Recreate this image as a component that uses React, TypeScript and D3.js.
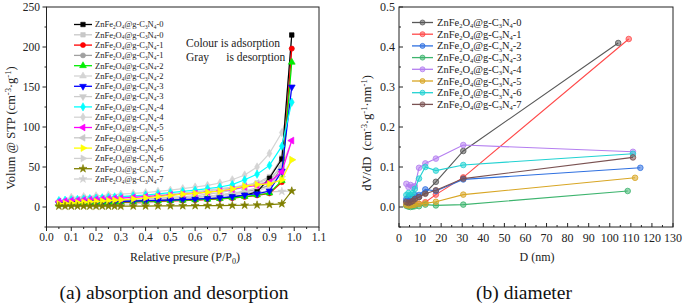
import React from "react";
import * as d3 from "d3";

// ---------- Panel (a): adsorption / desorption ----------
const X_ADS = [0.05,0.075,0.1,0.125,0.15,0.175,0.2,0.225,0.25,0.275,0.3,0.35,0.4,0.45,0.5,0.55,0.6,0.65,0.7,0.75,0.8,0.85,0.9,0.95,0.99];
const X_DES = [0.99,0.95,0.9,0.85,0.8,0.75,0.7,0.65,0.6,0.55,0.5,0.45,0.4,0.35,0.3,0.25,0.2,0.15,0.1];

const ADS_0 = [4,4.5,5,5.2,5.5,5.7,6,6.2,6.4,6.6,6.8,7.2,7.6,8,8.5,9,9.6,10.3,11.2,12.5,14.5,19,36,60,215];
const ADS_1 = [3,3.5,4,4.2,4.5,4.7,5,5.2,5.4,5.6,5.8,6.2,6.6,7,7.5,8,8.5,9.2,10,11,12.5,14.5,17,31,198];
const ADS_2 = [3.5,4,4.5,4.7,5,5.2,5.5,5.7,5.9,6.1,6.3,6.7,7.1,7.5,8,8.5,9,9.7,10.5,11.5,13,15,17.5,33,181];
const ADS_3 = [4,4.5,5,5.3,5.6,5.9,6.2,6.4,6.6,6.8,7,7.4,7.8,8.2,8.7,9.2,9.8,10.5,11.5,13,15,16.5,20,45,150];
const ADS_4 = [8,8.5,9,9.5,10,10.5,11,11.5,12,12.5,13,14,15,16.5,18,19.5,21,23,25,28,34,41,52,76,131];
const ADS_5 = [7,7.5,8,8.4,8.8,9.2,9.6,10,10.4,10.8,11.2,12,13,14,15,16,17,18.5,20,22,25,27,31,44,83];
const ADS_6 = [4,4.5,5,5.5,6,6.5,7,7.5,8,8.5,9,10,11.5,13,14.5,16,17,18.5,20,22.5,26,28,29,34,59];
const ADS_7 = [1,1,1,1,1,1,1,1,1,1,1,1.1,1.2,1.3,1.4,1.5,1.6,1.7,1.8,2,2.2,2.5,3,4,20];

const DES_0 = [215,62,38,30,25,21,18,16,14,13,12,11,10,9,8.5,8,7,6.5,6];
const DES_1 = [198,50,27,22,19,17,15,13.5,12,11,10,9.5,9,8.5,8,7.5,7,6,5.5];
const DES_2 = [181,45,25,20,17,15,13.5,12,11,10,9.5,9,8.5,8,7.5,7,6.5,6,5.5];
const DES_3 = [150,55,30,24,20,17,15,13.5,12,11,10.5,10,9.5,9,8.5,8,7.5,7,6.5];
const DES_4 = [131,93,67,50,40,34,30,27,25,23,21,19.5,18,17,16,15,14,13,12];
const DES_5 = [83,50,35,30,27,24,22,20,18.5,17,16,15,14,13.5,13,12.5,12,11,10];
const DES_6 = [59,38,32,29,27,25,23,21,19,17.5,16,15,14,13,12,11,10,9,8];
const DES_7 = [20,19.5,19,18.5,18,17,15,13,11,9,7.5,6,5,4,3.5,3,2.5,2,1.5];

const SAMPLES = ["0","1","2","3","4","5","6","7"];
const ADS = [ADS_0, ADS_1, ADS_2, ADS_3, ADS_4, ADS_5, ADS_6, ADS_7];
const DES = [DES_0, DES_1, DES_2, DES_3, DES_4, DES_5, DES_6, DES_7];
const ADS_COLORS = ["#000000","#ff0000","#00ee00","#0000ff","#00ffff","#ff00ff","#ffff00","#808000"];
const DES_COLORS = ["#c8c8c8","#a0a0a0","#d4d4d4","#cccccc","#d4d4d4","#c8c8c8","#d0d0d0","#d0d0d0"];
const MARKERS = ["square","circle","up","down","diamond","left","right","star"];

const XA_TICKS = [0,0.1,0.2,0.3,0.4,0.5,0.6,0.7,0.8,0.9,1.0,1.1];
const YA_TICKS = [0,50,100,150,200,250];

// ---------- Panel (b): pore diameter ----------
const D_0 = [3.5,4.5,5.5,6.5,7.5,9.5,12.5,17.5,30.5,104];
const D_1 = [3.5,4.5,5.5,6.5,7.5,9.5,12.5,17.5,30.5,109];
const D_2 = [3.5,4.5,5.5,6.5,7.5,9.5,12.5,17.5,30.5,114.5];
const D_3 = [3.5,4.5,5.5,6.5,7.5,9.5,12.5,17.5,30.5,108.5];
const D_4 = [3.5,4.5,5.5,6.5,7.5,9.5,12.5,17.5,30.5,111];
const D_5 = [3.5,4.5,5.5,6.5,7.5,9.5,12.5,17.5,30.5,112];
const D_6 = [3.5,4.5,5.5,6.5,7.5,9.5,12.5,17.5,30.5,111];
const D_7 = [3.5,4.5,5.5,6.5,7.5,9.5,12.5,17.5,30.5,111];

const DV_0 = [0.015,0.012,0.015,0.018,0.02,0.025,0.035,0.063,0.14,0.41];
const DV_1 = [0.005,0.003,0.004,0.005,0.006,0.008,0.012,0.031,0.074,0.42];
const DV_2 = [0.02,0.025,0.022,0.025,0.03,0.03,0.044,0.04,0.069,0.098];
const DV_3 = [0.003,0.001,0.0,0.001,0.002,0.002,0.006,0.004,0.006,0.04];
const DV_4 = [0.058,0.05,0.055,0.05,0.052,0.098,0.109,0.121,0.155,0.138];
const DV_5 = [0.005,0.004,0.004,0.005,0.006,0.008,0.009,0.013,0.031,0.073];
const DV_6 = [0.03,0.035,0.03,0.035,0.045,0.071,0.1,0.091,0.105,0.133];
const DV_7 = [0.012,0.01,0.012,0.015,0.02,0.025,0.033,0.042,0.071,0.124];

const D_SERIES = [D_0, D_1, D_2, D_3, D_4, D_5, D_6, D_7];
const DV_SERIES = [DV_0, DV_1, DV_2, DV_3, DV_4, DV_5, DV_6, DV_7];
const PORE_COLORS = ["#585858","#ff4a4a","#2f70e0","#3db46e","#b47ef0","#d8a624","#22d2d2","#7a5252"];

const XB_TICKS = [0,10,20,30,40,50,60,70,80,90,100,110,120,130];
const YB_TICKS = [0,0.1,0.2,0.3,0.4,0.5];

const FONT = "Liberation Serif";
const TXT = { fontFamily: FONT } as React.CSSProperties;

function symbolPath(kind: string, size: number) {
  const map: Record<string, any> = {
    square: d3.symbolSquare, circle: d3.symbolCircle, up: d3.symbolTriangle,
    down: d3.symbolTriangle, left: d3.symbolTriangle, right: d3.symbolTriangle,
    diamond: d3.symbolDiamond, star: d3.symbolStar,
  };
  return d3.symbol().type(map[kind]).size(size)() as string;
}
const ROT: Record<string, number> = { down: 180, left: -90, right: 90 };

function Marker({ kind, x, y, color, size }: any) {
  const r = ROT[kind] || 0;
  return (
    <path d={symbolPath(kind, size)} transform={`translate(${x},${y}) rotate(${r})`} fill={color} stroke={color} strokeWidth={0.6} />
  );
}

function Formula({ x, y, fs, suffix }: any) {
  const sub = fs * 0.62;
  const dy = fs * 0.22;
  return (
    <text x={x} y={y} fontSize={fs} style={TXT} fill="#222">
      <tspan>ZnFe</tspan>
      <tspan fontSize={sub} dy={dy}>2</tspan>
      <tspan dy={-dy}>O</tspan>
      <tspan fontSize={sub} dy={dy}>4</tspan>
      <tspan dy={-dy}>@g-C</tspan>
      <tspan fontSize={sub} dy={dy}>3</tspan>
      <tspan dy={-dy}>N</tspan>
      <tspan fontSize={sub} dy={dy}>4</tspan>
      <tspan dy={-dy}>-{suffix}</tspan>
    </text>
  );
}

function PanelA() {
  const x = d3.scaleLinear().domain([0, 1.1]).range([46.5, 319]);
  const y = d3.scaleLinear().domain([-25, 250]).range([227, 7]);
  const line = (xs: number[], ys: number[]) =>
    d3.line<number>().x((_, i) => x(xs[i])).y((d) => y(d))(ys) as string;
  const minorX = d3.range(0.05, 1.1, 0.1);
  const minorY = d3.range(-25, 250, 50);
  const legendRows: any[] = [];
  SAMPLES.forEach((s, i) => {
    legendRows.push({ s, color: ADS_COLORS[i], kind: MARKERS[i] });
    legendRows.push({ s, color: DES_COLORS[i], kind: MARKERS[i] });
  });
  return (
    <g>
      {DES.map((ys, i) => (
        <g key={"d" + i}>
          <path d={line(X_DES, ys)} fill="none" stroke={DES_COLORS[i]} strokeWidth={1.2} />
          {ys.map((v, j) => (
            <Marker key={j} kind={MARKERS[i]} x={x(X_DES[j])} y={y(v)} color={DES_COLORS[i]} size={20} />
          ))}
        </g>
      ))}
      {ADS.map((ys, i) => (
        <g key={"a" + i}>
          <path d={line(X_ADS, ys)} fill="none" stroke={ADS_COLORS[i]} strokeWidth={1.2} />
          {ys.map((v, j) => (
            <Marker key={j} kind={MARKERS[i]} x={x(X_ADS[j])} y={y(v)} color={ADS_COLORS[i]} size={20} />
          ))}
        </g>
      ))}
      <rect x={46.5} y={7} width={319 - 46.5} height={220} fill="none" stroke="#222" strokeWidth={1} />
      {XA_TICKS.map((t) => (
        <g key={"xt" + t}>
          <line x1={x(t)} x2={x(t)} y1={227} y2={231} stroke="#222" />
          <text x={x(t)} y={241} fontSize={11.5} style={TXT} textAnchor="middle" fill="#222">{t.toFixed(1)}</text>
        </g>
      ))}
      {minorX.map((t) => (
        <line key={"xm" + t} x1={x(t)} x2={x(t)} y1={227} y2={229} stroke="#222" />
      ))}
      {YA_TICKS.map((t) => (
        <g key={"yt" + t}>
          <line x1={42.5} x2={46.5} y1={y(t)} y2={y(t)} stroke="#222" />
          <text x={40} y={y(t) + 4} fontSize={11.5} style={TXT} textAnchor="end" fill="#222">{t}</text>
        </g>
      ))}
      {minorY.map((t) => (
        <line key={"ym" + t} x1={44.5} x2={46.5} y1={y(t)} y2={y(t)} stroke="#222" />
      ))}
      {legendRows.map((r, i) => {
        const yy = 24.5 + i * 10.3;
        return (
          <g key={"lg" + i}>
            <line x1={74} x2={92} y1={yy} y2={yy} stroke={r.color} strokeWidth={1.3} />
            <Marker kind={r.kind} x={83} y={yy} color={r.color} size={20} />
            <Formula x={95} y={yy + 2.8} fs={8.5} suffix={r.s} />
          </g>
        );
      })}
      <text x={186} y={47} fontSize={11.5} style={TXT} fill="#222">Colour is adsorption</text>
      <text x={186} y={61} fontSize={11.5} style={{ ...TXT, whiteSpace: "pre" }} fill="#222">Gray      is desorption</text>
      <text transform="translate(15,128) rotate(-90)" fontSize={12.5} style={TXT} textAnchor="middle" fill="#222">
        Volum @ STP (cm<tspan fontSize={8.5} dy={-4.5}>-3</tspan><tspan dy={4.5}>·g</tspan><tspan fontSize={8.5} dy={-4.5}>-1</tspan><tspan dy={4.5}>)</tspan>
      </text>
      <text x={185} y={261} fontSize={12} style={TXT} textAnchor="middle" fill="#222">
        Relative presure (P/P<tspan fontSize={8} dy={2.5}>0</tspan><tspan dy={-2.5}>)</tspan>
      </text>
      <text x={174} y={299} fontSize={19.5} style={TXT} textAnchor="middle" fill="#111">(a) absorption and desorption</text>
    </g>
  );
}

function PanelB() {
  const x = d3.scaleLinear().domain([0, 130]).range([399, 673]);
  const y = d3.scaleLinear().domain([-0.05, 0.5]).range([227, 7]);
  const line = (xs: number[], ys: number[]) =>
    d3.line<number>().x((_, i) => x(xs[i])).y((d) => y(d))(ys) as string;
  const minorX = d3.range(5, 130, 10);
  const minorY = d3.range(-0.05, 0.5, 0.1);
  return (
    <g>
      {DV_SERIES.map((ys, i) => (
        <g key={"p" + i}>
          <path d={line(D_SERIES[i], ys)} fill="none" stroke={PORE_COLORS[i]} strokeWidth={1.1} />
          {ys.map((v, j) => (
            <circle key={j} cx={x(D_SERIES[i][j])} cy={y(v)} r={2.8} fill={PORE_COLORS[i]} fillOpacity={0.55} stroke={PORE_COLORS[i]} strokeWidth={0.8} />
          ))}
        </g>
      ))}
      <rect x={399} y={7} width={274} height={220} fill="none" stroke="#222" strokeWidth={1} />
      {XB_TICKS.map((t) => (
        <g key={"xt" + t}>
          <line x1={x(t)} x2={x(t)} y1={227} y2={223} stroke="#222" />
          <text x={x(t)} y={242} fontSize={12} style={TXT} textAnchor="middle" fill="#222">{t}</text>
        </g>
      ))}
      {minorX.map((t) => (
        <line key={"xm" + t} x1={x(t)} x2={x(t)} y1={227} y2={225} stroke="#222" />
      ))}
      {YB_TICKS.map((t) => (
        <g key={"yt" + t}>
          <line x1={399} x2={403} y1={y(t)} y2={y(t)} stroke="#222" />
          <text x={395} y={y(t) + 4} fontSize={12} style={TXT} textAnchor="end" fill="#222">{t.toFixed(1)}</text>
        </g>
      ))}
      {minorY.map((t) => (
        <line key={"ym" + t} x1={399} x2={401} y1={y(t)} y2={y(t)} stroke="#222" />
      ))}
      {SAMPLES.map((s, i) => {
        const yy = 22.5 + i * 11.7;
        return (
          <g key={"lb" + i}>
            <line x1={412} x2={433} y1={yy} y2={yy} stroke={PORE_COLORS[i]} strokeWidth={1.3} />
            <circle cx={422.5} cy={yy} r={2.5} fill={PORE_COLORS[i]} fillOpacity={0.55} stroke={PORE_COLORS[i]} strokeWidth={0.8} />
            <Formula x={437} y={yy + 3.5} fs={10.5} suffix={s} />
          </g>
        );
      })}
      <text transform="translate(371,133) rotate(-90)" fontSize={12.5} style={{ ...TXT, whiteSpace: "pre" }} textAnchor="middle" fill="#222">
        dV/dD  (cm<tspan fontSize={8.5} dy={-4.5}>-3</tspan><tspan dy={4.5}>·g</tspan><tspan fontSize={8.5} dy={-4.5}>-1</tspan><tspan dy={4.5}>·nm</tspan><tspan fontSize={8.5} dy={-4.5}>-1</tspan><tspan dy={4.5}>)</tspan>
      </text>
      <text x={537} y={261} fontSize={12} style={TXT} textAnchor="middle" fill="#222">D (nm)</text>
      <text x={524} y={299} fontSize={19.5} style={TXT} textAnchor="middle" fill="#111">(b) diameter</text>
    </g>
  );
}

export default function App() {
  return (
    <svg width={685} height={305} style={{ position: "absolute", left: 0, top: 0, background: "#fff" }}>
      <rect width={685} height={305} fill="#fff" />
      <PanelA />
      <PanelB />
    </svg>
  );
}
